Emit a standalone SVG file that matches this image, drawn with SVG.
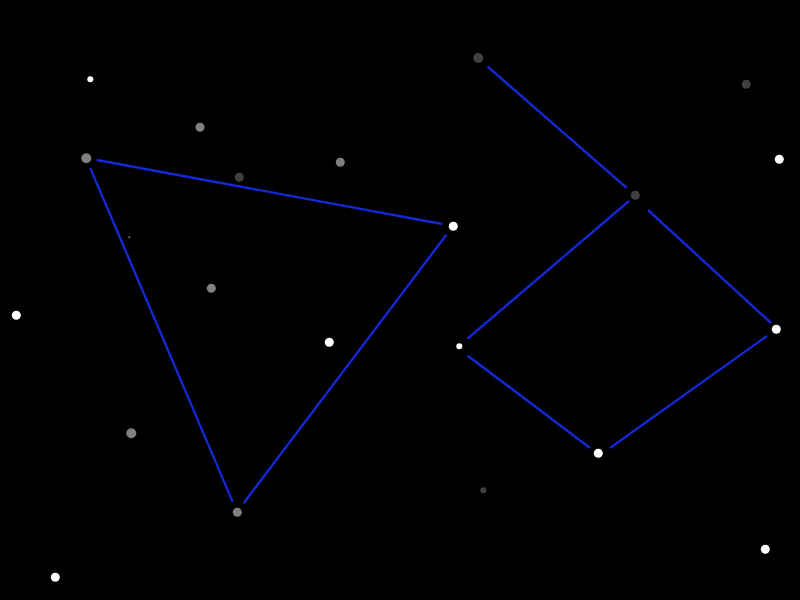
<svg xmlns="http://www.w3.org/2000/svg" width="800" height="600" viewBox="0 0 800 600">
<style>
.ln{stroke:#1428d4;stroke-width:2.4;fill:none}
.w{fill:#ffffff}
.g{fill:#808080}
.d{fill:#404040}
</style>
<rect width="800" height="600" fill="#000000"/>
<g id="connectors">
<line class="ln" x1="96.8" y1="160" x2="442.2" y2="224"/>
<line class="ln" x1="90.3" y1="168.1" x2="232.7" y2="501.9"/>
<line class="ln" x1="243.6" y1="503.2" x2="446.4" y2="234.8"/>
<line class="ln" x1="487.5" y1="66.5" x2="626.7" y2="187.8"/>
<line class="ln" x1="648" y1="210" x2="771" y2="323"/>
<line class="ln" x1="629" y1="201" x2="467.3" y2="338.8"/>
<line class="ln" x1="467.7" y1="355.7" x2="590" y2="448"/>
<line class="ln" x1="610" y1="448" x2="767" y2="336"/>
</g>
<g id="stars">
<circle id="s1" class="w" cx="90.3" cy="79.3" r="3"/>
<circle id="s2" class="g" cx="200" cy="127.3" r="4.5"/>
<circle id="s3" class="g" cx="86.3" cy="158.3" r="5"/>
<circle id="s4" class="d" cx="239.3" cy="177.3" r="4.5"/>
<circle id="s5" class="g" cx="340.3" cy="162.3" r="4.5"/>
<circle id="s6" class="g" cx="129.3" cy="237.3" r="1"/>
<circle id="s7" class="g" cx="211.3" cy="288.3" r="4.5"/>
<circle id="s8" class="g" cx="131.3" cy="433.3" r="5"/>
<circle id="s9" class="w" cx="16.3" cy="315.3" r="4.5"/>
<circle id="s10" class="w" cx="329.3" cy="342.3" r="4.5"/>
<circle id="s11" class="g" cx="237.3" cy="512.3" r="4.5"/>
<circle id="s12" class="w" cx="55.3" cy="577.3" r="4.5"/>
<circle id="s13" class="w" cx="453.3" cy="226.3" r="4.5"/>
<circle id="s14" class="d" cx="478.3" cy="58" r="5"/>
<circle id="s15" class="d" cx="746.3" cy="84.3" r="4.5"/>
<circle id="s16" class="w" cx="779.3" cy="159.3" r="4.5"/>
<circle id="s17" class="d" cx="635.3" cy="195.3" r="4.5"/>
<circle id="s18" class="w" cx="459.3" cy="346.3" r="3"/>
<circle id="s19" class="w" cx="776.3" cy="329.3" r="4.5"/>
<circle id="s20" class="w" cx="598.3" cy="453.3" r="4.5"/>
<circle id="s21" class="d" cx="483.3" cy="490.3" r="3"/>
<circle id="s22" class="w" cx="765.3" cy="549.3" r="4.5"/>
</g>
</svg>
